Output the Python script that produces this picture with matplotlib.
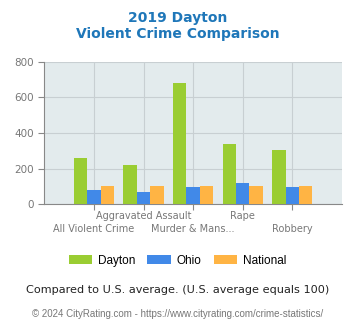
import matplotlib.pyplot as plt
import numpy as np

# Data for the chart
categories = ["All Violent Crime", "Aggravated Assault", "Murder & Mans...", "Rape", "Robbery"]
dayton = [258, 219, 683, 336, 307]
ohio = [79, 68, 95, 117, 95]
national = [100, 100, 100, 100, 100]
series_names = ["Dayton", "Ohio", "National"]
colors = ["#9acd32", "#4189e8", "#ffb444"]

fig = plt.figure(figsize=(3.55, 3.3), dpi=100)
ax = fig.add_axes([44.3 / 355, 1 - 204.3 / 330, 297.7 / 355, 142.6 / 330])
ax.set_facecolor("#e3ebed")

x = np.arange(len(categories))
w = 0.27
for i, (vals, name, c) in enumerate(zip([dayton, ohio, national], series_names, colors)):
    ax.bar(x + (i - 1) * w, vals, width=w, color=c, label=name, zorder=3)

ax.set_xlim(-1, 5)
ax.set_ylim(0, 800)
ax.set_yticks([0, 200, 400, 600, 800])
ax.set_xticks(x)
ax.set_xticklabels([])
ax.grid(True, color="#c8cfd2", linewidth=0.8, zorder=0)

# staggered category labels
for i, cat in enumerate(categories):
    ypos = -0.045 if i % 2 == 1 else -0.14
    ax.text(i, ypos, cat, transform=ax.get_xaxis_transform(), ha="center", va="top",
            fontsize=7, color="#777777")

for s in ["top", "right"]:
    ax.spines[s].set_visible(False)
ax.spines["left"].set_color("#888888")
ax.spines["bottom"].set_color("#888888")
ax.tick_params(axis="y", colors="#888888", labelsize=7.5, length=4, labelcolor="#777777")
ax.tick_params(axis="x", colors="#888888", length=4)

fig.text(0.5, 1 - 18 / 330, "2019 Dayton", ha="center", va="center",
         fontsize=10, fontweight="bold", color="#1f77b9")
fig.text(0.5, 1 - 34 / 330, "Violent Crime Comparison", ha="center", va="center",
         fontsize=10, fontweight="bold", color="#1f77b9")

fig.legend(loc="center", bbox_to_anchor=(0.5, 1 - 261 / 330), ncol=3, frameon=False,
           prop={"family": "Liberation Sans", "size": 8.5}, handlelength=2.0,
           handleheight=0.8, columnspacing=1.0, handletextpad=0.5)

fig.text(0.5, 1 - 290 / 330, "Compared to U.S. average. (U.S. average equals 100)",
         ha="center", va="center", fontsize=8.1, color="#222222")
fig.text(0.5, 1 - 314 / 330, "© 2024 CityRating.com - https://www.cityrating.com/crime-statistics/",
         ha="center", va="center", fontsize=7, color="#777777", family="Liberation Sans")

fig.savefig("out.png", dpi=100)
